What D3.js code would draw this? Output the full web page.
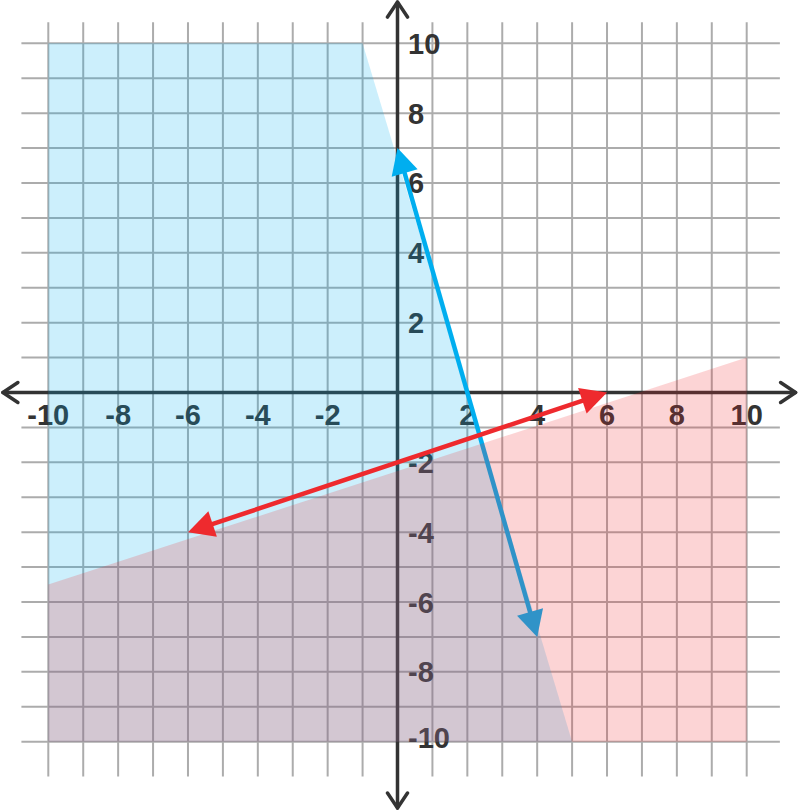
<!DOCTYPE html>
<html>
<head>
<meta charset="utf-8">
<script src="https://cdn.jsdelivr.net/npm/d3@7/dist/d3.min.js"></script>
<style>
  html, body { margin: 0; padding: 0; background: #ffffff; }
  svg { display: block; }
</style>
</head>
<body>
<svg id="chart" width="800" height="810"></svg>
<script>
// ---- data ----
const gridValues = [-10,-9,-8,-7,-6,-5,-4,-3,-2,-1,0,1,2,3,4,5,6,7,8,9,10];
const xTickLabels = [-10,-8,-6,-4,-2,2,4,6,8,10];
const yTickLabels = [10,8,6,4,2,-2,-4,-6,-8,-10];
const blueLine = [[0,7],[4,-7]];
const redLine = [[-6,-4],[6,0]];
const blueRegion = [[-10,10],[-1,10],[5,-10],[-10,-10]];
const redRegion = [[-10,-5.5],[10,1],[10,-10],[-10,-10]];

// ---- layout ----
const svg = d3.select("#chart");
const x = d3.scaleLinear().domain([-10,10]).range([48.3,746.7]);
const y = d3.scaleLinear().domain([-10,10]).range([741.7,43.3]);

const gridColor = "#acacac";
const axisColor = "#333333";
const blue = "#00aeef";
const red = "#ee2a2e";

// grid
const gGrid = svg.append("g");
gGrid.selectAll("line.v").data(gridValues).join("line")
  .attr("x1", d => x(d)).attr("x2", d => x(d))
  .attr("y1", y(10.6)).attr("y2", y(-11))
  .attr("stroke", gridColor).attr("stroke-width", 2);
gGrid.selectAll("line.h").data(gridValues).join("line")
  .attr("y1", d => y(d)).attr("y2", d => y(d))
  .attr("x1", x(-10.77)).attr("x2", x(10.95))
  .attr("stroke", gridColor).attr("stroke-width", 2);

// axes with open chevrons
const gAxes = svg.append("g")
  .attr("stroke", axisColor).attr("stroke-width", 3.5).attr("fill", "none")
  .attr("stroke-linecap", "round").attr("stroke-linejoin", "round");
const x0 = x(0), y0 = y(0);
const xl = x(-11.3), xr = x(11.4), yt = y(11.18), yb = y(-11.9);
gAxes.append("line").attr("x1", xl).attr("x2", xr).attr("y1", y0).attr("y2", y0);
gAxes.append("line").attr("x1", x0).attr("x2", x0).attr("y1", yt).attr("y2", yb);
const back = 15, side = 10;
gAxes.append("path").attr("d", `M${xl+back},${y0-side}L${xl},${y0}L${xl+back},${y0+side}`);
gAxes.append("path").attr("d", `M${xr-back},${y0-side}L${xr},${y0}L${xr-back},${y0+side}`);
gAxes.append("path").attr("d", `M${x0-side},${yt+back}L${x0},${yt}L${x0+side},${yt+back}`);
gAxes.append("path").attr("d", `M${x0-side},${yb-back}L${x0},${yb}L${x0+side},${yb-back}`);

// tick labels
const gLab = svg.append("g")
  .attr("font-family", "'Liberation Sans', Arial, Helvetica, sans-serif")
  .attr("font-weight", "bold").attr("font-size", 29).attr("fill", axisColor);
gLab.selectAll("text.x").data(xTickLabels).join("text")
  .attr("x", d => x(d)).attr("y", y0 + 32)
  .attr("text-anchor", "middle").text(d => d);
gLab.selectAll("text.y").data(yTickLabels).join("text")
  .attr("x", x0 + 10.5).attr("y", d => y(d) + (d === -10 ? 6.5 : 10.5))
  .attr("text-anchor", "start").text(d => d);

// helpers
const poly = pts => "M" + pts.map(p => `${x(p[0])},${y(p[1])}`).join("L") + "Z";
function arrowLine(g, pts, color) {
  const [a, b] = pts.map(p => [x(p[0]), y(p[1])]);
  const dx = b[0]-a[0], dy = b[1]-a[1];
  const len = Math.hypot(dx, dy);
  const ux = dx/len, uy = dy/len, nx = -uy, ny = ux;
  const L = 26, W = 13.5;
  const a2 = [a[0]+ux*L*0.8, a[1]+uy*L*0.8];
  const b2 = [b[0]-ux*L*0.8, b[1]-uy*L*0.8];
  g.append("line").attr("x1", a2[0]).attr("y1", a2[1]).attr("x2", b2[0]).attr("y2", b2[1])
    .attr("stroke", color).attr("stroke-width", 4.5);
  const head = (tip, dir) => {
    const bx = tip[0] - dir*ux*L, by = tip[1] - dir*uy*L;
    return `M${tip[0]},${tip[1]}L${bx+nx*W},${by+ny*W}L${bx-nx*W},${by-ny*W}Z`;
  };
  g.append("path").attr("d", head(b, 1)).attr("fill", color);
  g.append("path").attr("d", head(a, -1)).attr("fill", color);
}

// blue shade + line
svg.append("path").attr("d", poly(blueRegion)).attr("fill", blue).attr("fill-opacity", 0.2);
arrowLine(svg.append("g"), blueLine, blue);

// red shade + line
svg.append("path").attr("d", poly(redRegion)).attr("fill", red).attr("fill-opacity", 0.2);
arrowLine(svg.append("g"), redLine, red);
</script>
</body>
</html>
